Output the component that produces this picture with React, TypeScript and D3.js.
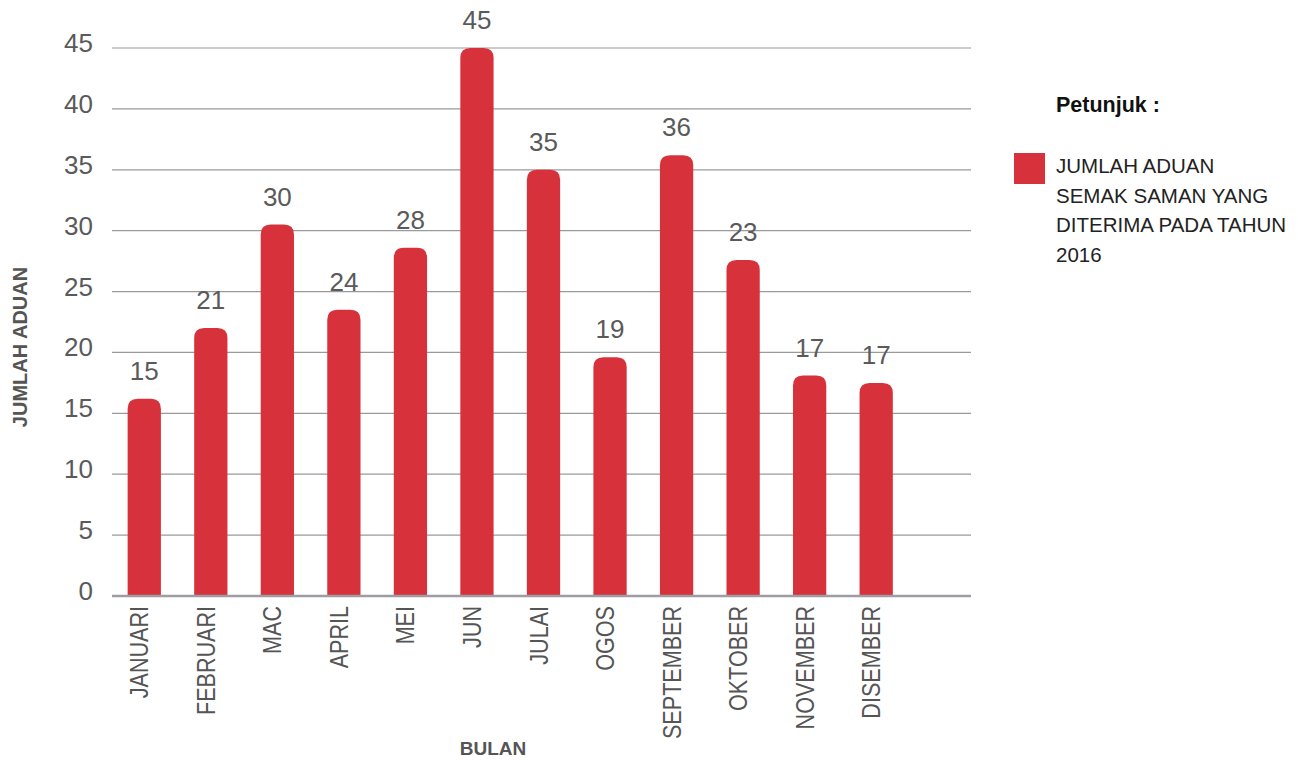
import { useEffect, useRef } from 'react';
import * as d3 from 'd3';

// bulan & jumlah aduan (tinggi bar, label mengikut teks asal)
const months = [
  'JANUARI', 'FEBRUARI', 'MAC', 'APRIL', 'MEI', 'JUN',
  'JULAI', 'OGOS', 'SEPTEMBER', 'OKTOBER', 'NOVEMBER', 'DISEMBER',
];
const barValues = [16.2, 22.0, 30.5, 23.5, 28.6, 45, 35.0, 19.6, 36.2, 27.6, 18.1, 17.5];
const valueLabels = ['15', '21', '30', '24', '28', '45', '35', '19', '36', '23', '17', '17'];
const yTicks = [0, 5, 10, 15, 20, 25, 30, 35, 40, 45];
const legendLines = ['JUMLAH ADUAN', 'SEMAK SAMAN YANG', 'DITERIMA PADA TAHUN', '2016'];

const RED = '#d7323b';
const GREY_TEXT = '#555';

const App = () => {
  const svgRef = useRef<SVGSVGElement>(null);

  useEffect(() => {
    if (!svgRef.current) return;
    const svg = d3.select(svgRef.current);
    svg.selectAll('*').remove();

    const font = '"Liberation Sans", Arial, sans-serif';

    // satu band kosong di hujung
    const x = d3.scaleBand<string>()
      .domain([...months, ''])
      .range([111, 976])
      .paddingInner(0.5)
      .paddingOuter(0.25);

    const y = d3.scaleLinear().domain([0, 45]).range([596, 48]);

    // grid
    svg.append('g')
      .selectAll('line')
      .data(yTicks.filter(t => t > 0))
      .join('line')
      .attr('x1', 112)
      .attr('x2', 971)
      .attr('y1', d => y(d))
      .attr('y2', d => y(d))
      .attr('stroke', '#9a9a9a')
      .attr('stroke-width', 1.2);

    // label paksi y
    svg.append('g')
      .selectAll('text')
      .data(yTicks)
      .join('text')
      .attr('x', 93)
      .attr('y', d => y(d) + 4)
      .attr('text-anchor', 'end')
      .attr('font-family', font)
      .attr('font-size', 26)
      .attr('fill', '#5a5a5a')
      .text(d => d);

    // bar dengan bucu atas bulat
    const bw = x.bandwidth();
    const r = 10;
    svg.append('g')
      .selectAll('path')
      .data(months)
      .join('path')
      .attr('d', (m, i) => {
        const x0 = x(m)!;
        const top = y(barValues[i]);
        const base = y(0);
        return `M${x0},${base} V${top + r} Q${x0},${top} ${x0 + r},${top} H${x0 + bw - r} Q${x0 + bw},${top} ${x0 + bw},${top + r} V${base} Z`;
      })
      .attr('fill', RED);

    // paksi x
    svg.append('line')
      .attr('x1', 112)
      .attr('x2', 971)
      .attr('y1', y(0))
      .attr('y2', y(0))
      .attr('stroke', '#9d9da3')
      .attr('stroke-width', 2.5);

    // label nilai
    svg.append('g')
      .selectAll('text')
      .data(months)
      .join('text')
      .attr('x', m => x(m)! + bw / 2)
      .attr('y', (m, i) => y(barValues[i]) - 19)
      .attr('text-anchor', 'middle')
      .attr('font-family', font)
      .attr('font-size', 26)
      .attr('fill', '#5a5a5a')
      .text((m, i) => valueLabels[i]);

    // nama bulan (menegak)
    svg.append('g')
      .selectAll('text')
      .data(months)
      .join('text')
      .attr('transform', m => `translate(${x(m)! + bw / 2 + 4},606) rotate(-90) scale(0.83,1)`)
      .attr('text-anchor', 'end')
      .attr('font-family', font)
      .attr('font-size', 26)
      .attr('fill', GREY_TEXT)
      .text(m => m);

    // tajuk paksi
    svg.append('text')
      .attr('transform', 'translate(27,347) rotate(-90)')
      .attr('text-anchor', 'middle')
      .attr('font-family', font)
      .attr('font-weight', 'bold')
      .attr('font-size', 20)
      .attr('fill', GREY_TEXT)
      .text('JUMLAH ADUAN');

    svg.append('text')
      .attr('x', 493)
      .attr('y', 755)
      .attr('text-anchor', 'middle')
      .attr('font-family', font)
      .attr('font-weight', 'bold')
      .attr('font-size', 19)
      .attr('fill', GREY_TEXT)
      .text('BULAN');

    // petunjuk
    const legend = svg.append('g');
    legend.append('text')
      .attr('x', 1056)
      .attr('y', 112)
      .attr('font-family', font)
      .attr('font-weight', 'bold')
      .attr('font-size', 21.5)
      .attr('fill', '#111')
      .text('Petunjuk :');

    legend.append('rect')
      .attr('x', 1014)
      .attr('y', 153)
      .attr('width', 31)
      .attr('height', 31)
      .attr('fill', RED);

    legend.selectAll('text.item')
      .data(legendLines)
      .join('text')
      .attr('class', 'item')
      .attr('x', 1056)
      .attr('y', (d, i) => 173 + i * 29.7)
      .attr('font-family', font)
      .attr('font-size', 20.5)
      .attr('fill', '#222')
      .text(d => d);
  }, []);

  return (
    <svg
      ref={svgRef}
      width="1298"
      height="760"
      style={{ position: 'absolute', left: 0, top: 0, background: '#fff' }}
    />
  );
};

export default App;
